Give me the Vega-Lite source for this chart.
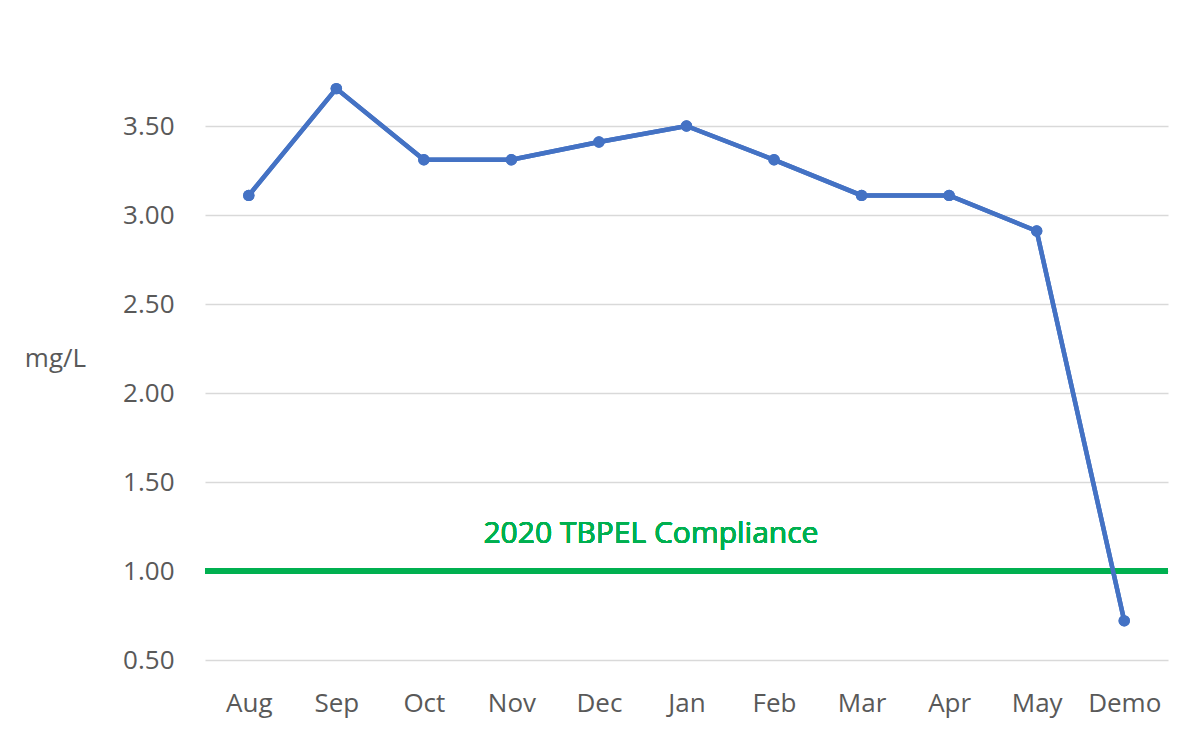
{
  "$schema": "https://vega.github.io/schema/vega-lite/v6.json",
  "width": 963,
  "height": 623,
  "autosize": "none",
  "padding": {"left": 205, "top": 37, "right": 20, "bottom": 89},
  "background": "white",
  "config": {"view": {"stroke": null}, "font": "Open Sans"},
  "data": {
    "values": [
      {"month": "Aug", "value": 3.11},
      {"month": "Sep", "value": 3.71},
      {"month": "Oct", "value": 3.31},
      {"month": "Nov", "value": 3.31},
      {"month": "Dec", "value": 3.41},
      {"month": "Jan", "value": 3.5},
      {"month": "Feb", "value": 3.31},
      {"month": "Mar", "value": 3.11},
      {"month": "Apr", "value": 3.11},
      {"month": "May", "value": 2.91},
      {"month": "Demo", "value": 0.72}
    ]
  },
  "layer": [
    {
      "mark": {"type": "line", "color": "#4472C4", "strokeWidth": 4.5, "point": {"filled": true, "size": 130, "color": "#4472C4", "opacity": 1}},
      "encoding": {
        "x": {
          "field": "month", "type": "ordinal", "sort": null,
          "axis": {"title": null, "labelAngle": 0, "domain": false, "ticks": false, "labelPadding": 30, "labelFontSize": 26, "labelColor": "#595959", "grid": false}
        },
        "y": {
          "field": "value", "type": "quantitative",
          "scale": {"domain": [0.5, 4.0], "nice": false, "zero": false},
          "axis": {
            "values": [0.5, 1.0, 1.5, 2.0, 2.5, 3.0, 3.5], "format": ".2f",
            "grid": true, "gridColor": "#d9d9d9", "gridWidth": 1.5,
            "domain": false, "ticks": false, "labelPadding": 31, "labelFontSize": 26, "labelColor": "#595959",
            "title": "mg/L", "titleAngle": 0, "titleX": -150, "titleY": 321, "titleAlign": "center", "titleBaseline": "middle",
            "titleFontSize": 26, "titleFontWeight": "normal", "titleColor": "#595959"
          }
        }
      }
    },
    {
      "mark": {"type": "rule", "color": "#00B050", "strokeWidth": 6},
      "encoding": {"y": {"datum": 1.0, "type": "quantitative"}}
    },
    {
      "mark": {"type": "line", "color": "#4472C4", "strokeWidth": 4.5, "point": {"filled": true, "size": 130, "color": "#4472C4", "opacity": 1}},
      "encoding": {
        "x": {"field": "month", "type": "ordinal", "sort": null},
        "y": {"field": "value", "type": "quantitative"}
      }
    },
    {
      "mark": {"type": "text", "text": "2020 TBPEL Compliance", "color": "#00B050", "fontSize": 30, "fontWeight": "normal", "align": "center", "baseline": "middle", "dx": 52},
      "encoding": {
        "x": {"datum": "Dec", "type": "ordinal"},
        "y": {"datum": 1.21, "type": "quantitative"}
      }
    }
  ]
}
